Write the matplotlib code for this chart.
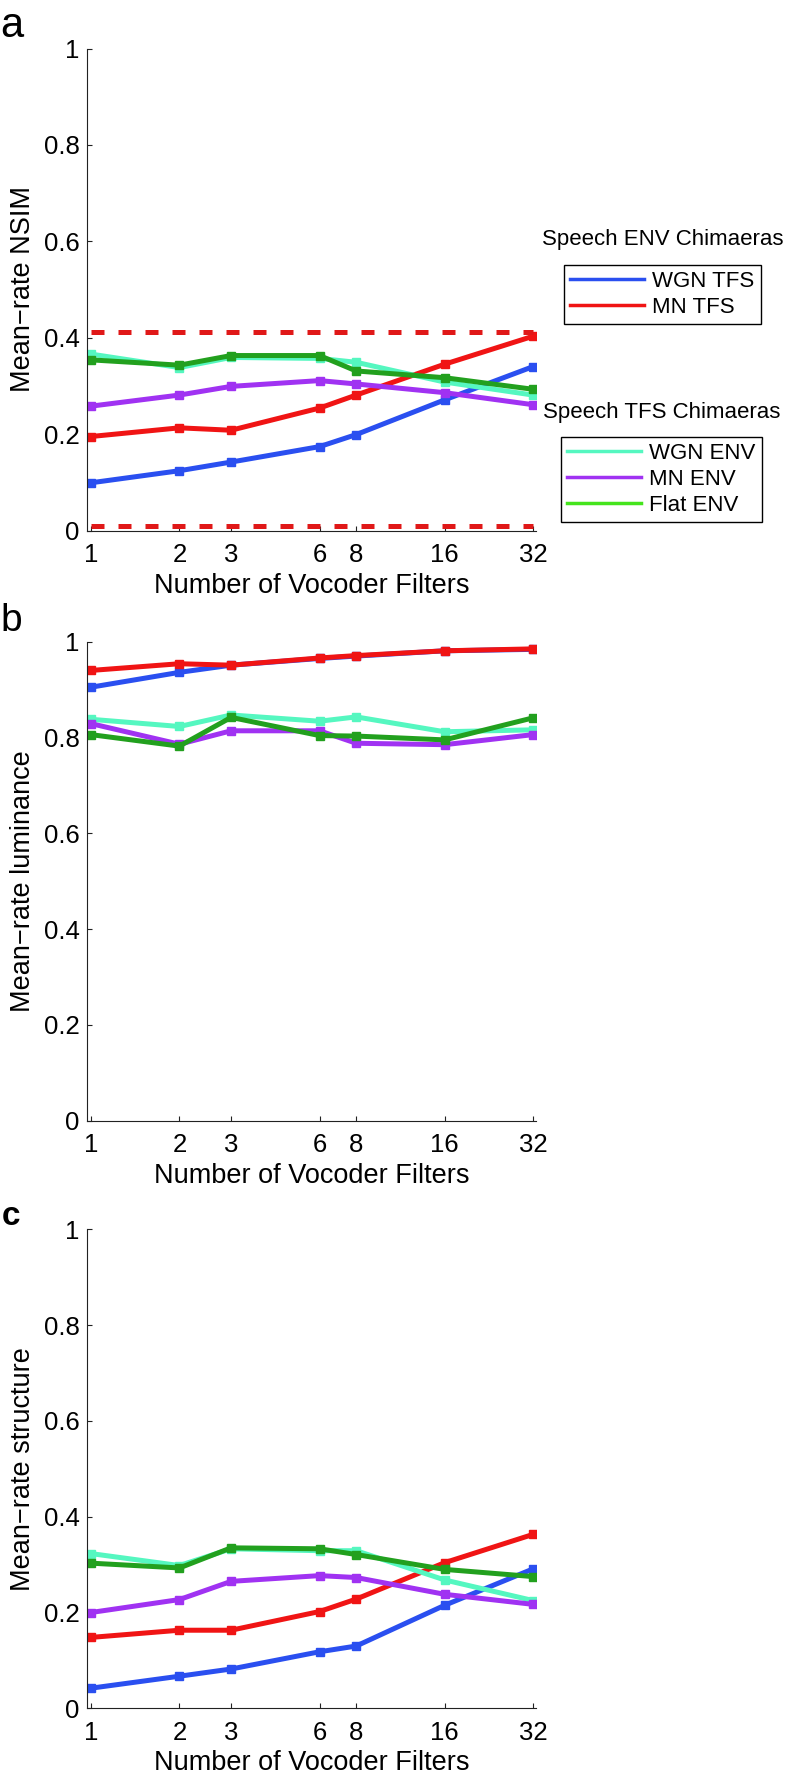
import matplotlib
matplotlib.use("Agg")
import matplotlib.pyplot as plt
from matplotlib.lines import Line2D

plt.rcParams['font.family'] = ['Liberation Sans', 'DejaVu Sans']

# number of vocoder filters (x axis)
filters = [1, 2, 3, 6, 8, 16, 32]

# panel a: mean-rate NSIM
nsim_wgn_tfs = [0.099, 0.124, 0.142, 0.174, 0.199, 0.271, 0.340]
nsim_mn_tfs = [0.195, 0.213, 0.208, 0.254, 0.281, 0.345, 0.403]
nsim_wgn_env = [0.366, 0.338, 0.359, 0.357, 0.349, 0.308, 0.281]
nsim_mn_env = [0.258, 0.281, 0.299, 0.311, 0.304, 0.286, 0.261]
nsim_flat_env = [0.354, 0.343, 0.363, 0.363, 0.331, 0.317, 0.293]
nsim_upper = 0.411
nsim_lower = 0.009

# panel b: mean-rate luminance
lum_wgn_tfs = [0.905, 0.936, 0.951, 0.965, 0.970, 0.981, 0.984]
lum_mn_tfs = [0.940, 0.954, 0.951, 0.966, 0.971, 0.981, 0.985]
lum_wgn_env = [0.838, 0.823, 0.847, 0.834, 0.843, 0.812, 0.816]
lum_mn_env = [0.829, 0.786, 0.814, 0.814, 0.788, 0.785, 0.806]
lum_flat_env = [0.806, 0.782, 0.842, 0.804, 0.803, 0.795, 0.841]

# panel c: mean-rate structure
str_wgn_tfs = [0.042, 0.067, 0.082, 0.118, 0.130, 0.215, 0.291]
str_mn_tfs = [0.148, 0.163, 0.163, 0.202, 0.228, 0.304, 0.363]
str_wgn_env = [0.323, 0.298, 0.333, 0.329, 0.329, 0.268, 0.225]
str_mn_env = [0.200, 0.227, 0.265, 0.277, 0.273, 0.238, 0.217]
str_flat_env = [0.303, 0.293, 0.335, 0.333, 0.321, 0.290, 0.275]

c_blue = '#2a4ff0'
c_red = '#f01414'
c_cyan = '#55f7c0'
c_purple = '#a032f2'
c_green = '#22a01e'
c_lime = '#44e41c'

W, H = 789, 1777
fig = plt.figure(figsize=(W / 100, H / 100), dpi=100)

left = 86.7 / W
width = 449.3 / W
# (top, bottom) pixel rows of each axes box
boxes = [(48.5, 530.5), (641.7, 1120.7), (1229.3, 1708.3)]
ylabels = ['Mean\u2212rate NSIM', 'Mean\u2212rate luminance', 'Mean\u2212rate structure']
panels = [
    (nsim_wgn_tfs, nsim_mn_tfs, nsim_wgn_env, nsim_mn_env, nsim_flat_env),
    (lum_wgn_tfs, lum_mn_tfs, lum_wgn_env, lum_mn_env, lum_flat_env),
    (str_wgn_tfs, str_mn_tfs, str_wgn_env, str_mn_env, str_flat_env),
]
colors = [c_blue, c_red, c_cyan, c_purple, c_green]

axes = []
for (top, bot), ylab, series in zip(boxes, ylabels, panels):
    ax = fig.add_axes([left, 1 - bot / H, width, (bot - top) / H])
    for vals, col in zip(series, colors):
        ax.plot(filters, vals, color=col, lw=3.6, marker='s', ms=6, mec=col, mfc=col)
    ax.set_xscale('log', base=2)
    ax.set_xlim(0.967, 32.76)
    ax.set_ylim(0, 1)
    ax.set_xticks(filters)
    ax.set_xticklabels([str(f) for f in filters])
    ax.minorticks_off()
    ax.set_yticks([0, 0.2, 0.4, 0.6, 0.8, 1])
    ax.set_yticklabels(['0', '0.2', '0.4', '0.6', '0.8', '1'])
    ax.spines['top'].set_visible(False)
    ax.spines['right'].set_visible(False)
    for s in ['left', 'bottom']:
        ax.spines[s].set_linewidth(0.8)
        ax.spines[s].set_color('#222222')
    ax.tick_params(axis='both', direction='in', length=3.6, width=0.8, labelsize=18.5, colors='#222222', labelcolor='black')
    ax.tick_params(axis='x', pad=9)
    ax.tick_params(axis='y', pad=5)
    ax.set_xlabel('Number of Vocoder Filters', fontsize=19.5, labelpad=4)
    ax.set_ylabel(ylab, fontsize=19.5, labelpad=6)
    axes.append(ax)

# dashed reference lines in panel a
ax_a = axes[0]
for yv in [nsim_upper, nsim_lower]:
    ax_a.plot([filters[0], filters[-1]], [yv, yv], color='#e01818', lw=3.6, ls=(0, (2.6, 2.8)))

# panel letters
fig.text(0.0 / W, 1 - 37 / H, 'a', fontsize=30, ha='left', va='baseline')
fig.text(0.0 / W, 1 - 631 / H, 'b', fontsize=28, ha='left', va='baseline')
fig.text(2.0 / W, 1 - 1225 / H, 'c', fontsize=24, fontweight='bold', ha='left', va='baseline')

# legends, titles sit above the boxes
leg_kw = dict(fontsize=16, frameon=True, fancybox=False, edgecolor='black', framealpha=1,
              borderpad=0.28, borderaxespad=0, handlelength=3.3, handletextpad=0.4,
              labelspacing=0.22, loc='upper left')

fig.text(542 / W, 1 - 240 / H, 'Speech ENV Chimaeras', fontsize=16, ha='left', va='center')
h1 = [Line2D([], [], color=c_blue, lw=2.5), Line2D([], [], color=c_red, lw=2.5)]
leg1 = fig.legend(h1, ['WGN TFS', 'MN TFS'], bbox_to_anchor=(564 / W, 1 - 265 / H), **leg_kw)
leg1.get_frame().set_linewidth(1.0)

fig.text(543 / W, 1 - 412 / H, 'Speech TFS Chimaeras', fontsize=16, ha='left', va='center')
h2 = [Line2D([], [], color=c_cyan, lw=2.5), Line2D([], [], color=c_purple, lw=2.5),
      Line2D([], [], color=c_lime, lw=2.5)]
leg2 = fig.legend(h2, ['WGN ENV', 'MN ENV', 'Flat ENV'], bbox_to_anchor=(561 / W, 1 - 437 / H), **leg_kw)
leg2.get_frame().set_linewidth(1.0)

fig.savefig('out.png', dpi=100)
